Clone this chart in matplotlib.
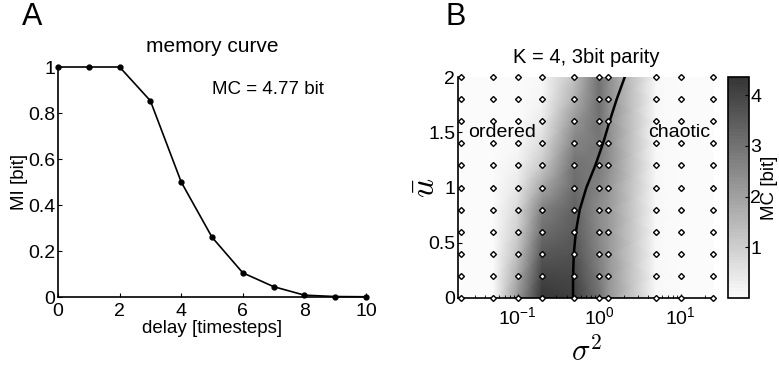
import numpy as np
import matplotlib
matplotlib.use("Agg")
import matplotlib.pyplot as plt
from matplotlib.colors import LinearSegmentedColormap

plt.rcParams['font.family'] = ['Liberation Sans', 'DejaVu Sans']
plt.rcParams['mathtext.fontset'] = 'cm'

# ---- Panel A data ----
delay = [0, 1, 2, 3, 4, 5, 6, 7, 8, 9, 10]
mi_bits = [1.0, 1.0, 1.0, 0.853, 0.50, 0.26, 0.105, 0.045, 0.008, 0.002, 0.001]
mc_text = "MC = 4.77 bit"

# ---- Panel B data ----
sigma2 = [0.02, 0.05, 0.1, 0.2, 0.5, 1.0, 1.3, 5.0, 10.0, 25.0]
ubar = [0.0, 0.2, 0.4, 0.6, 0.8, 1.0, 1.2, 1.4, 1.6, 1.8, 2.0]
mc_grid = [
    [0.0, 0.05, 2.20, 4.40, 4.10, 3.00, 2.30, 0.10, 0.0, 0.0],
    [0.0, 0.03, 1.80, 4.00, 3.90, 2.80, 2.30, 0.10, 0.0, 0.0],
    [0.0, 0.02, 1.30, 3.60, 3.70, 2.60, 2.20, 0.10, 0.0, 0.0],
    [0.0, 0.00, 1.00, 3.10, 3.50, 2.50, 2.20, 0.10, 0.0, 0.0],
    [0.0, 0.00, 0.75, 2.70, 3.40, 2.40, 2.20, 0.10, 0.0, 0.0],
    [0.0, 0.00, 0.45, 1.90, 3.20, 2.60, 2.30, 0.10, 0.0, 0.0],
    [0.0, 0.00, 0.25, 1.10, 3.00, 2.80, 2.40, 0.10, 0.0, 0.0],
    [0.0, 0.00, 0.10, 0.70, 2.60, 2.90, 2.40, 0.10, 0.0, 0.0],
    [0.0, 0.00, 0.05, 0.40, 2.20, 3.00, 2.40, 0.10, 0.0, 0.0],
    [0.0, 0.00, 0.00, 0.20, 1.70, 3.00, 2.40, 0.10, 0.0, 0.0],
    [0.0, 0.00, 0.00, 0.10, 1.30, 3.00, 2.40, 0.10, 0.0, 0.0],
]
crit_u = [0.0, 0.2, 0.4, 0.6, 0.8, 1.0, 1.2, 1.4, 1.6, 1.8, 2.0]
crit_sigma2 = [0.48, 0.48, 0.49, 0.52, 0.58, 0.70, 0.90, 1.12, 1.35, 1.65, 2.07]
mc_max = 4.36

W, H = 779, 370
fig = plt.figure(figsize=(W / 100, H / 100), dpi=100)

def box(l, t, r, b):
    return [l / W, 1 - b / H, (r - l) / W, (b - t) / H]

# ---------------- Panel A ----------------
axA = fig.add_axes(box(58, 67, 366, 297))
axA.plot(delay, mi_bits, color='black', lw=1.2, marker='o', ms=3.5, clip_on=False, zorder=3)
axA.set_xlim(0, 10)
axA.set_ylim(0, 1)
axA.set_xticks([0, 2, 4, 6, 8, 10])
axA.set_yticks([0, 0.2, 0.4, 0.6, 0.8, 1])
axA.set_yticklabels(['0', '0.2', '0.4', '0.6', '0.8', '1'])
for s in ['top', 'right']:
    axA.spines[s].set_visible(False)
for s in ['left', 'bottom']:
    axA.spines[s].set_linewidth(1.2)
axA.tick_params(direction='in', length=3, labelsize=14, pad=2)
axA.tick_params(axis='x', pad=4)
axA.set_xlabel('delay [timesteps]', fontsize=13.5, labelpad=0)
axA.set_ylabel('MI [bit]', fontsize=13.5, labelpad=0)
axA.set_title('memory curve', fontsize=15, pad=11)
axA.text(5.0, 0.90, mc_text, fontsize=13.5, va='center', ha='left')
fig.text(22 / W, 1 - 17 / H, 'A', fontsize=22, va='center', ha='left')

# ---------------- Panel B ----------------
cmap = LinearSegmentedColormap.from_list('g', [(0.985, 0.985, 0.985), (0.21, 0.21, 0.21)], N=64)
axB = fig.add_axes(box(458, 77, 715, 298))
X, Y = np.meshgrid(sigma2, ubar)
pm = axB.pcolormesh(X, Y, np.array(mc_grid), shading='gouraud', cmap=cmap, vmin=0, vmax=mc_max)
axB.set_xscale('log')
axB.set_xlim(0.0186, 26.5)
axB.set_ylim(0, 2)
axB.plot(X.ravel(), Y.ravel(), linestyle='none', marker='D', ms=3.0, mfc='white',
         mec='black', mew=1.0, clip_on=False, zorder=4)
axB.plot(crit_sigma2, crit_u, color='black', lw=1.8, zorder=3)
axB.set_yticks([0, 0.5, 1, 1.5, 2])
axB.set_yticklabels(['0', '0.5', '1', '1.5', '2'])
for s in ['top', 'right']:
    axB.spines[s].set_visible(False)
for s in ['left', 'bottom']:
    axB.spines[s].set_linewidth(1.2)
axB.tick_params(which='both', direction='in', labelsize=14, pad=2)
axB.tick_params(axis='x', which='both', pad=6)
axB.tick_params(which='major', length=3)
axB.tick_params(which='minor', length=2)
axB.set_title('K = 4, 3bit parity', fontsize=14.5, pad=10)
axB.set_xlabel(r'$\sigma^2$', fontsize=22, labelpad=6)
axB.set_ylabel(r'$\bar{u}$', fontsize=24, labelpad=-10)
axB.text(0.0245, 1.5, 'ordered', fontsize=14, va='center', ha='left', zorder=5)
axB.text(3.96, 1.5, 'chaotic', fontsize=14, va='center', ha='left', zorder=5)
fig.text(445 / W, 1 - 17 / H, 'B', fontsize=22, va='center', ha='left')

cax = fig.add_axes(box(728, 77, 749, 298))
cb = fig.colorbar(pm, cax=cax)
cb.set_ticks([1, 2, 3, 4])
cb.ax.tick_params(direction='in', length=3, labelsize=14, pad=1)
cb.outline.set_linewidth(1.2)
cb.set_label('MC [bit]', fontsize=13.5, labelpad=0)

fig.savefig('out.png', dpi=100)
